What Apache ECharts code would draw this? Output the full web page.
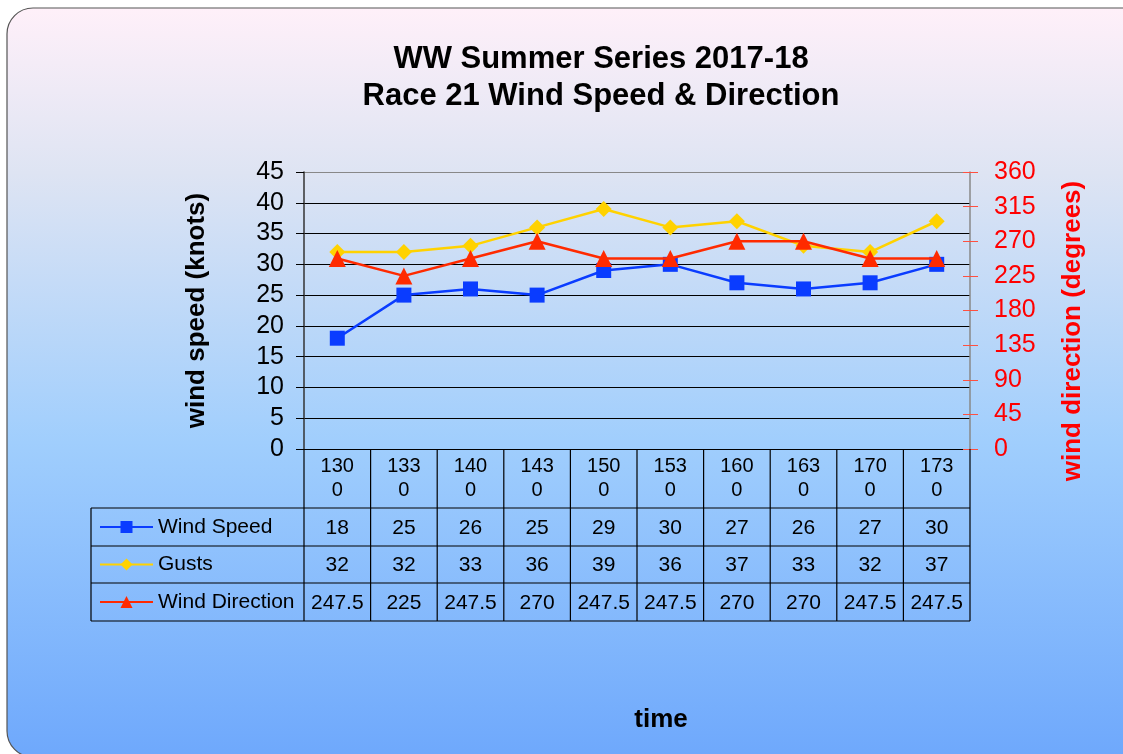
<!DOCTYPE html>
<html>
<head>
    <meta charset="utf-8">
    <title>WW Summer Series 2017-18</title>
    <script src="https://cdn.jsdelivr.net/npm/echarts@6/dist/echarts.min.js"></script>
    <style>
        html, body { margin: 0; padding: 0; background: #ffffff; }
    </style>
</head>
<body>
<div id="main" style="width: 1123px;height:754px;"></div>
<script type="text/javascript">
    // data
    var times = ['1300', '1330', '1400', '1430', '1500', '1530', '1600', '1630', '1700', '1730'];
    var windSpeed = [18, 25, 26, 25, 29, 30, 27, 26, 27, 30];
    var gusts = [32, 32, 33, 36, 39, 36, 37, 33, 32, 37];
    var windDirection = [247.5, 225, 247.5, 270, 247.5, 247.5, 270, 270, 247.5, 247.5];
    var seriesNames = ['Wind Speed', 'Gusts', 'Wind Direction'];

    var FONT = 'Liberation Sans, Arial, sans-serif';
    var gridL = 304, gridR = 970, gridT = 172, gridB = 449;
    var rowLines = [508, 546, 583, 621];
    var legendLeft = 91;

    var myChart = echarts.init(document.getElementById('main'));

    var splitColors = [];
    for (var i = 0; i < 9; i++) splitColors.push('#000000');
    splitColors.push('#888888');

    var option = {
        textStyle: { fontFamily: FONT },
        animation: false,
        title: {
            text: 'WW Summer Series 2017-18\nRace 21 Wind Speed & Direction',
            left: 596,
            textAlign: 'center',
            top: 36,
            textStyle: { fontSize: 31, fontWeight: 'bold', color: '#000', lineHeight: 37, fontFamily: FONT }
        },
        legend: {
            orient: 'vertical',
            left: 99,
            top: 515,
            padding: 0,
            itemWidth: 53,
            itemHeight: 15,
            itemGap: 13.5,
            data: seriesNames,
            textStyle: { fontSize: 21, color: '#000', lineHeight: 24, fontFamily: FONT }
        },
        grid: {
            left: gridL,
            right: 1123 - gridR,
            top: gridT,
            bottom: 754 - gridB
        },
        xAxis: {
            type: 'category',
            data: times,
            boundaryGap: true,
            axisLine: { lineStyle: { color: '#000', width: 1 } },
            axisTick: { show: false },
            axisLabel: {
                fontSize: 20,
                color: '#000',
                lineHeight: 24,
                margin: 5,
                interval: 0,
                fontFamily: FONT,
                formatter: function (v) { return v.slice(0, 3) + '\n' + v.slice(3); }
            }
        },
        yAxis: [{
            type: 'value',
            min: 0,
            max: 45,
            interval: 5,
            name: 'wind speed (knots)',
            nameLocation: 'middle',
            nameRotate: 90,
            nameGap: 94,
            nameTextStyle: { fontSize: 26, fontWeight: 'bold', color: '#000', fontFamily: FONT },
            axisLine: { show: true, lineStyle: { color: '#333', width: 1.5 } },
            axisTick: { show: true, length: 8, lineStyle: { color: '#000' } },
            axisLabel: { fontSize: 25, color: '#000', margin: 20, fontFamily: FONT },
            splitLine: { show: true, lineStyle: { color: splitColors, width: 1 } }
        }, {
            type: 'value',
            min: 0,
            max: 360,
            interval: 45,
            position: 'right',
            name: 'wind direction (degrees)',
            nameLocation: 'middle',
            nameRotate: 90,
            nameGap: 90,
            nameTextStyle: { fontSize: 26, fontWeight: 'bold', color: '#ff0000', fontFamily: FONT, padding: [0, 0, 0, -41] },
            axisLine: { show: true, lineStyle: { color: '#888', width: 1.5 } },
            axisTick: { show: true, length: 8, lineStyle: { color: '#ff5040' } },
            axisLabel: { fontSize: 25, color: '#ff0000', margin: 24, fontFamily: FONT },
            splitLine: { show: false }
        }, {
            // inner half of the crossing ticks on the right axis
            type: 'value',
            min: 0,
            max: 360,
            interval: 45,
            position: 'right',
            axisLine: { show: false },
            axisTick: { show: true, inside: true, length: 7, lineStyle: { color: '#ff5040' } },
            axisLabel: { show: false },
            splitLine: { show: false }
        }],
        series: [{
            name: 'Wind Speed',
            type: 'line',
            data: windSpeed,
            symbol: 'rect',
            symbolSize: 15,
            color: '#0a3cff',
            lineStyle: { width: 2.5, color: '#0a3cff' },
            itemStyle: { color: '#0a3cff' },
            z: 3
        }, {
            name: 'Gusts',
            type: 'line',
            data: gusts,
            symbol: 'diamond',
            symbolSize: 16,
            color: '#ffd200',
            lineStyle: { width: 2.5, color: '#ffd200' },
            itemStyle: { color: '#ffd200' },
            z: 4
        }, {
            name: 'Wind Direction',
            type: 'line',
            yAxisIndex: 1,
            data: windDirection,
            symbol: 'triangle',
            symbolSize: 17,
            color: '#ff2a00',
            lineStyle: { width: 2.5, color: '#ff2a00' },
            itemStyle: { color: '#ff2a00' },
            z: 5
        }]
    };

    myChart.setOption(option);

    // background panel, data table and axis title drawn after layout
    var elements = [];
    elements.push({
        type: 'rect',
        z: -10,
        silent: true,
        shape: { x: 7, y: 8, width: 1150, height: 749, r: 26 },
        style: {
            fill: new echarts.graphic.LinearGradient(0, 0, 0, 1, [
                { offset: 0, color: '#fff0f9' },
                { offset: 0.22, color: '#dee4f3' },
                { offset: 0.58, color: '#a0cefd' },
                { offset: 1, color: '#6ea8fc' }
            ]),
            stroke: '#555555',
            lineWidth: 1.2
        }
    });

    var lineStyle = { stroke: '#000', lineWidth: 1.2 };
    function hLine(x1, x2, y) {
        elements.push({ type: 'line', z: 10, silent: true, shape: { x1: x1, y1: y, x2: x2, y2: y }, style: lineStyle });
    }
    function vLine(x, y1, y2) {
        elements.push({ type: 'line', z: 10, silent: true, shape: { x1: x, y1: y1, x2: x, y2: y2 }, style: lineStyle });
    }

    var colW = (gridR - gridL) / times.length;
    rowLines.forEach(function (y) { hLine(legendLeft, gridR, y); });
    vLine(legendLeft, rowLines[0], rowLines[3]);
    for (var c = 0; c <= times.length; c++) {
        vLine(gridL + c * colW, gridB, rowLines[3]);
    }

    var rows = [windSpeed, gusts, windDirection];
    rows.forEach(function (vals, r) {
        var cy = (rowLines[r] + rowLines[r + 1]) / 2 + 1;
        vals.forEach(function (v, k) {
            var cx = myChart.convertToPixel({ xAxisIndex: 0 }, times[k]);
            elements.push({
                type: 'text',
                z: 10,
                silent: true,
                x: cx,
                y: cy,
                style: {
                    text: String(v),
                    fontSize: 21,
                    fontFamily: FONT,
                    fill: '#000',
                    align: 'center',
                    verticalAlign: 'middle'
                }
            });
        });
    });

    elements.push({
        type: 'text',
        z: 10,
        silent: true,
        x: 661,
        y: 720,
        style: {
            text: 'time',
            fontSize: 26,
            fontWeight: 'bold',
            fontFamily: FONT,
            fill: '#000',
            align: 'center',
            verticalAlign: 'middle'
        }
    });

    myChart.setOption({ graphic: elements });
</script>
</body>
</html>
